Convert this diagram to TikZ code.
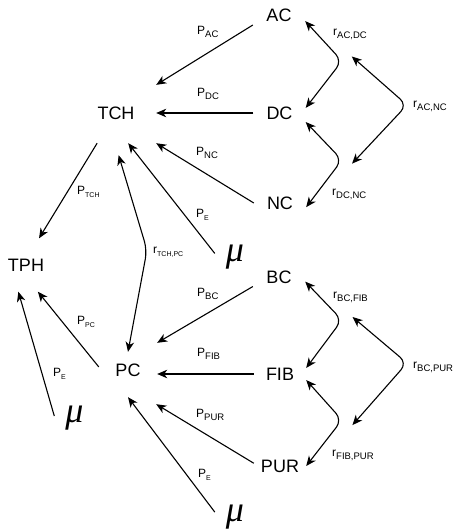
\documentclass[tikz,border=0pt]{standalone}
\usepackage{fontspec}
\setmainfont{Liberation Sans}
\newfontfamily\mufont{Liberation Serif}
\usetikzlibrary{arrows.meta}

% label with a subscript: normal and small subscript sizes
\newcommand\lblsub[2]{#1\raisebox{-3pt}{\fontsize{9.5}{10}\selectfont #2}}
\newcommand\lblsmall[2]{#1\raisebox{-2.5pt}{\fontsize{7}{8}\selectfont #2}}

\begin{document}
\begin{tikzpicture}[x=1pt,y=-1pt,
  >={Stealth[length=10pt,width=8.5pt,inset=3pt]},
  var/.style={font=\fontsize{18}{20}\selectfont, inner sep=0pt,
              minimum width=52pt, minimum height=24pt},
  hub/.style={var, minimum width=80pt, minimum height=60pt},
  lbl/.style={font=\fontsize{12}{14}\selectfont, inner sep=0pt, anchor=west},
  mu/.style={font=\mufont\itshape\fontsize{36}{38}\selectfont, inner sep=0pt,
             minimum width=40pt},
  arr/.style={line width=1.1pt, ->},
  rarr/.style={line width=1.1pt, <->, rounded corners=9pt}
]
\useasboundingbox (0,0) rectangle (456,531);

% variables
\node[hub] (TCH) at (116,113) {TCH};
\node[var, minimum width=58pt, minimum height=54pt] (PC) at (128,370) {PC};
\node[var, minimum width=40pt, minimum height=53pt] (TPH) at (26,265) {TPH};
\node[var] (AC)  at (279,15.5) {AC};
\node[var] (DC)  at (279.5,113) {DC};
\node[var] (NC)  at (280,203) {NC};
\node[var] (BC)  at (279,277) {BC};
\node[var] (FIB) at (280,374) {FIB};
\node[var] (PUR) at (280,466) {PUR};
\node[mu] (mu1) at (235,257) {μ};
\node[mu] (mu2) at (74.5,418.5) {μ};
\node[mu] (mu3) at (235,517.5) {μ};

% path coefficients
\node[lbl] (pAC)  at (197,32)  {\lblsub{P}{AC}};
\node[lbl] (pDC)  at (197,94)  {\lblsub{P}{DC}};
\node[lbl] (pNC)  at (196,153) {\lblsub{P}{NC}};
\node[lbl] (pE1)  at (196,215) {\lblsmall{P}{E}};
\node[lbl] (pTCH) at (77,192)  {\lblsmall{P}{TCH}};
\node[lbl] (pPC)  at (77,322)  {\lblsmall{P}{PC}};
\node[lbl] (pE2)  at (53,374)  {\lblsmall{P}{E}};
\node[lbl] (pBC)  at (197,294) {\lblsub{P}{BC}};
\node[lbl] (pFIB) at (197,354) {\lblsub{P}{FIB}};
\node[lbl] (pPUR) at (196,415) {\lblsub{P}{PUR}};
\node[lbl] (pE3)  at (198,475) {\lblsmall{P}{E}};

% correlations
\node[lbl] (rTP)   at (153,252) {\lblsmall{r}{TCH,PC}};
\node[lbl] (rACDC) at (333,34)  {\lblsub{r}{AC,DC}};
\node[lbl] (rACNC) at (413,106) {\lblsub{r}{AC,NC}};
\node[lbl] (rDCNC) at (332,194) {\lblsub{r}{DC,NC}};
\node[lbl] (rBCFIB) at (333,297) {\lblsub{r}{BC,FIB}};
\node[lbl] (rBCPUR) at (413,367) {\lblsub{r}{BC,PUR}};
\node[lbl] (rFIBPUR) at (332,455) {\lblsub{r}{FIB,PUR}};

% directed paths into TCH and TPH
\draw[arr] (AC.200) -- (TCH.35);
\draw[arr] (DC.west) -- (TCH.east);
\draw[arr] (NC.west) -- (TCH.south east);
\draw[arr] (mu1.170) -- (TCH.-68);
\draw[arr] (TCH.-122) -- (TPH.64);
\draw[arr] (PC.174) -- (TPH.-66);
\draw[arr] (mu2.173) -- (TPH.-106);

% directed paths into PC
\draw[arr] (BC.200) -- (PC.north east);
\draw[arr] (FIB.west) -- (FIB.west -| PC.east);
\draw[arr] (PUR.174) -- ([shift={(-1pt,-7pt)}]PC.south east);
\draw[arr] (mu3.165) -- (PC.south);

% two-headed correlation curves
\draw[rarr] ([yshift=-12pt]TCH.-85) -- (147,250) -- ([yshift=-9pt]PC.north);
\draw[rarr] (AC.-12) -- (342,61) -- (DC.11);
\draw[rarr] (DC.-19) -- (342,160) -- (NC.-9);
\draw[rarr, shorten <=62pt, shorten >=67pt] (AC.east) -- (407,105) -- (NC.-20);
\draw[rarr] (BC.-10) -- (342,320) -- (FIB.13);
\draw[rarr] (FIB.-13) -- (342,420) -- (PUR.east);
\draw[rarr, shorten <=62pt, shorten >=70pt] (BC.east) -- (407,363) -- (PUR.-24);
\end{tikzpicture}
\end{document}
